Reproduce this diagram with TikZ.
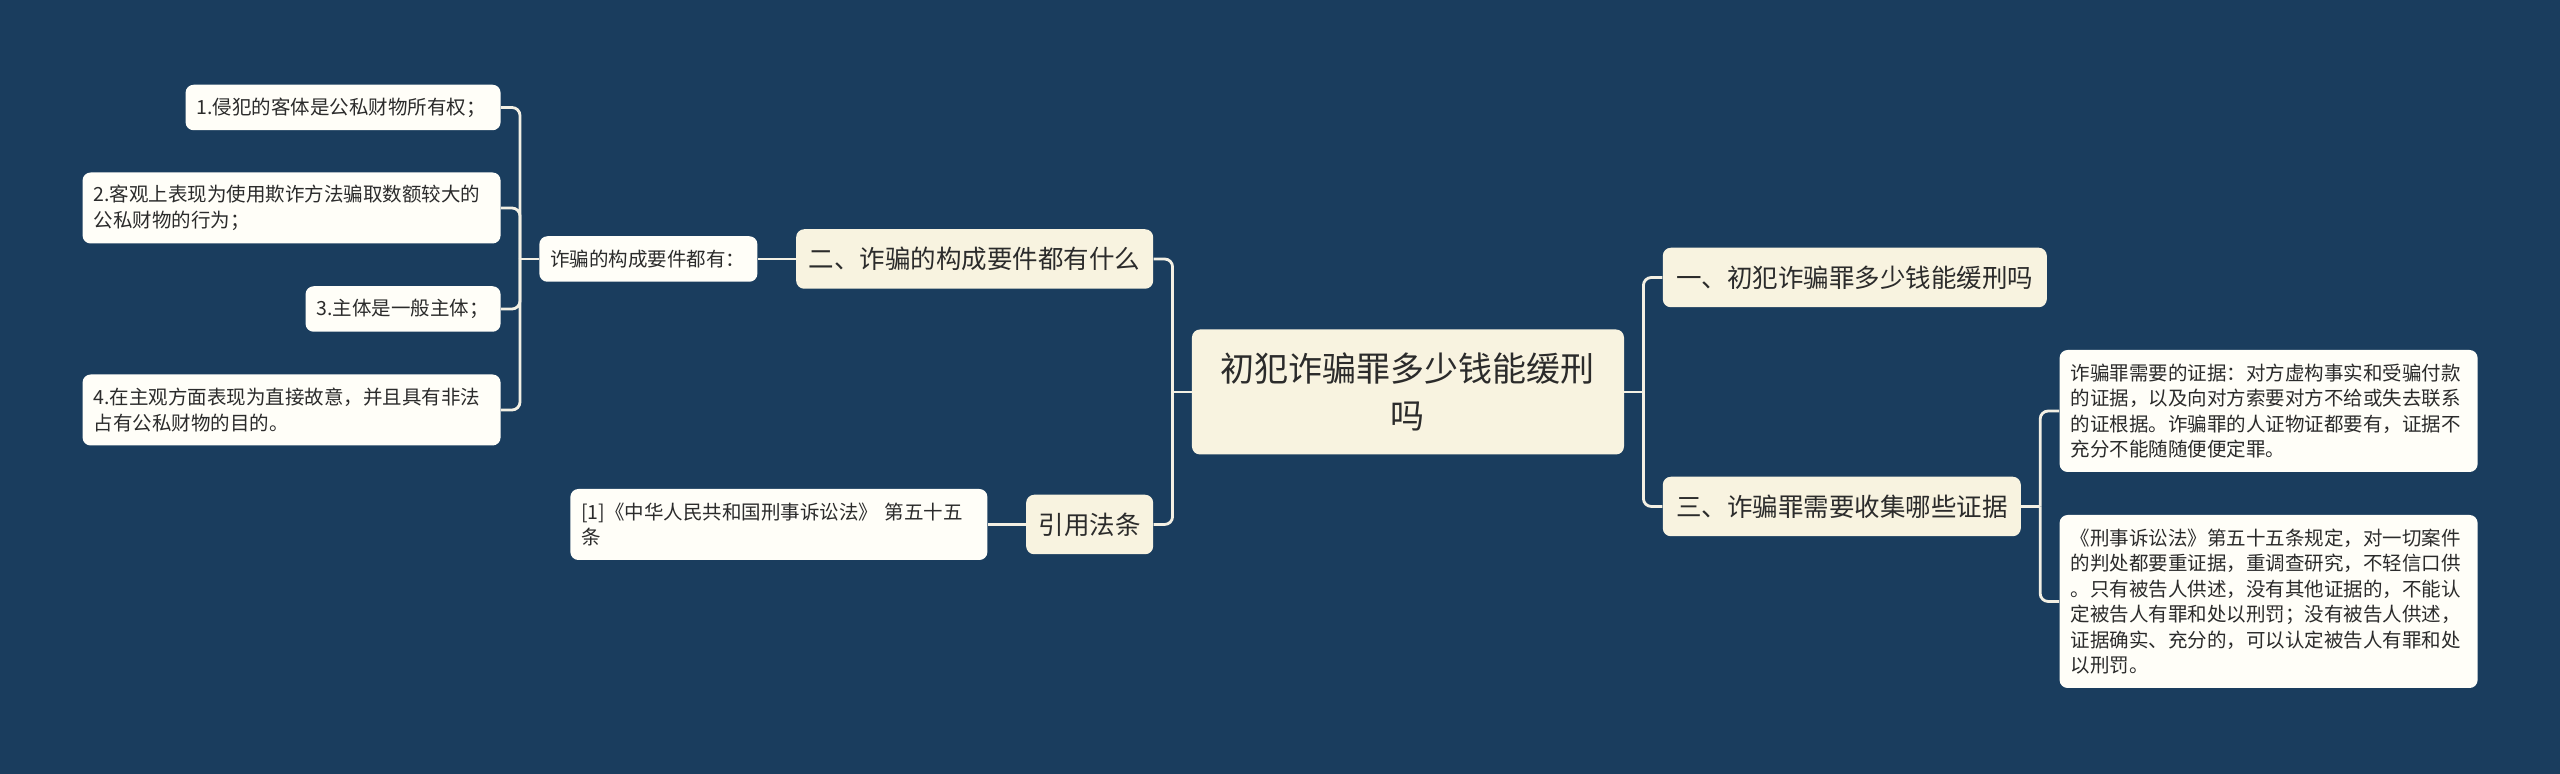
\documentclass[tikz,border=0pt]{standalone}
\usepackage{fontspec}
\newfontfamily\cjk{Noto Sans CJK SC}
\usepackage{xcolor}
\definecolor{pagebg}{HTML}{1A3D5E}
\definecolor{topicbg}{HTML}{F8F3E0}
\definecolor{leafbg}{HTML}{FFFEF8}
\definecolor{ink}{HTML}{2B2B2B}
\definecolor{wire}{HTML}{F3F0E4}
\usepackage{tikz}
\usetikzlibrary{positioning,calc}

\begin{document}
\begin{tikzpicture}[
  node distance=19pt,
  topic/.style={rounded corners=4pt, fill=topicbg, text=ink, align=center,
                font=\cjk\fontsize{17}{23.5}\selectfont, minimum width=216pt, minimum height=62.5pt},
  sub/.style={rounded corners=4pt, fill=topicbg, text=ink, font=\cjk\fontsize{12.75}{15}\selectfont,
              inner xsep=6pt, minimum height=29.75pt},
  leaf/.style={rounded corners=4pt, fill=leafbg, text=ink, font=\cjk\fontsize{9.75}{12.75}\selectfont,
               align=left, text width=#1, inner xsep=5.5pt, inner ysep=2pt, minimum height=22.75pt},
  leaf/.default=198pt,
  link/.style={draw=wire, line width=1.4pt, rounded corners=4pt}
]
\fill[pagebg] (-704pt,-191pt) rectangle (576pt,196pt);
\node[topic] (root) at (0,0) {初犯诈骗罪多少钱能缓刑\\吗};
\node[sub, minimum width=178.5pt, left=of root, yshift=66.5pt] (two) {二、诈骗的构成要件都有什么};
\node[sub, minimum width=63.5pt, left=of root, yshift=-66.25pt] (cite) {引用法条};
\node[leaf=98pt, left=of two] (elem) {诈骗的构成要件都有：};
\node[leaf=197.5pt, minimum height=35.5pt, left=of cite] (law) {[1]《中华人民共和国刑事诉讼法》 第五十五\\条};
\node[leaf=146.5pt, left=of elem, yshift=75.75pt] (i1) {1.侵犯的客体是公私财物所有权；};
\node[leaf, minimum height=35.5pt, left=of elem, yshift=25.5pt] (i2) {2.客观上表现为使用欺诈方法骗取数额较大的\\公私财物的行为；};
\node[leaf=86.5pt, left=of elem, yshift=-25pt] (i3) {3.主体是一般主体；};
\node[leaf, minimum height=35.5pt, left=of elem, yshift=-75.5pt] (i4) {4.在主观方面表现为直接故意，并且具有非法\\占有公私财物的目的。};
\node[sub, minimum width=192pt, right=of root, yshift=57.25pt] (one) {一、初犯诈骗罪多少钱能缓刑吗};
\node[sub, minimum width=179pt, right=of root, yshift=-57.25pt] (three) {三、诈骗罪需要收集哪些证据};
\node[leaf, minimum height=61pt, right=of three, yshift=47.75pt] (ev1) {诈骗罪需要的证据：对方虚构事实和受骗付款\\的证据，以及向对方索要对方不给或失去联系\\的证根据。诈骗罪的人证物证都要有，证据不\\充分不能随随便便定罪。};
\node[leaf, minimum height=86.5pt, right=of three, yshift=-47.5pt] (ev2) {《刑事诉讼法》第五十五条规定，对一切案件\\的判处都要重证据，重调查研究，不轻信口供\\。只有被告人供述，没有其他证据的，不能认\\定被告人有罪和处以刑罚；没有被告人供述，\\证据确实、充分的，可以认定被告人有罪和处\\以刑罚。};
\coordinate (jl) at ($(root.west)+(-9.5pt,0)$);
\coordinate (jm) at ($(elem.west)+(-9.5pt,0)$);
\coordinate (jr) at ($(root.east)+(9.5pt,0)$);
\coordinate (je) at ($(three.east)+(9.5pt,0)$);
\draw[link] (root.west) -- (jl);
\draw[link] (jl) |- (two.east);
\draw[link] (jl) |- (cite.east);
\draw[link] (two.west) -- (elem.east);
\draw[link] (cite.west) -- (law.east);
\draw[link] (elem.west) -- (jm);
\draw[link] (jm) |- (i1.east);
\draw[link] (jm) |- (i2.east);
\draw[link] (jm) |- (i3.east);
\draw[link] (jm) |- (i4.east);
\draw[link] (root.east) -- (jr);
\draw[link] (jr) |- (one.west);
\draw[link] (jr) |- (three.west);
\draw[link] (three.east) -- (je);
\draw[link] (je) |- (ev1.west);
\draw[link] (je) |- (ev2.west);
\end{tikzpicture}
\end{document}
